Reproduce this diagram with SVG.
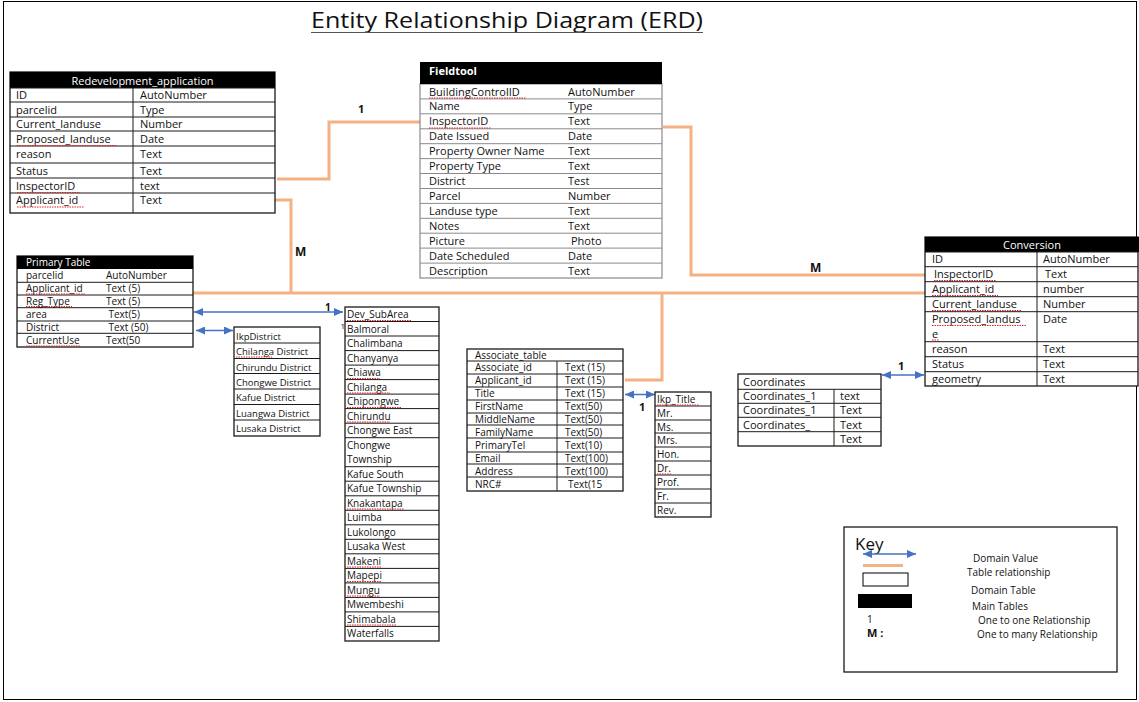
<svg xmlns="http://www.w3.org/2000/svg" width="1139" height="702" viewBox="0 0 1139 702">
<defs>
<marker id="arr" markerUnits="userSpaceOnUse" markerWidth="9" markerHeight="8" refX="9" refY="4" orient="auto-start-reverse"><path d="M0,0 L9,4 L0,8 z" fill="#4472C4"/></marker>
<style>
text{font-family:"Open Sans","Liberation Sans",sans-serif;font-size:11px;fill:#111}
.sm{font-size:10px}
.xs{font-size:9.5px}
.hd{fill:#fff}
.b{font-weight:bold}
.box{fill:#fff;stroke:#1a1a1a;stroke-width:1.3}
.ln{stroke:#1a1a1a;stroke-width:1}
.gl{stroke:#8a8a8a;stroke-width:1}
.blk{fill:#000}
.rel{fill:none;stroke:#F4B183;stroke-width:3}
.dom{stroke:#4472C4;stroke-width:1.5;marker-start:url(#arr);marker-end:url(#arr)}
.sq{stroke:#e02020;stroke-width:1;stroke-dasharray:1.5 1}
</style>
</defs>
<rect x="3.5" y="1.5" width="1133" height="698" fill="#fff" stroke="#000" stroke-width="1"/>

<g id="title">
<text x="507" y="28" text-anchor="middle" style="font-size:22px" textLength="392" lengthAdjust="spacingAndGlyphs">Entity Relationship Diagram (ERD)</text>
<line x1="311" y1="32.5" x2="703" y2="32.5" stroke="#555" stroke-width="1"/>
</g>

<g id="connectors">
<polyline class="rel" points="277,179 329,179 329,122 420,122"/>
<polyline class="rel" points="271,200 291,200 291,293"/>
<line class="rel" x1="189" y1="293" x2="926" y2="293"/>
<polyline class="rel" points="625,380 662,380 662,293"/>
<polyline class="rel" points="663,127 691,127 691,275 926,275"/>
<line class="dom" x1="194" y1="312" x2="343" y2="312"/>
<line class="dom" x1="196" y1="330.5" x2="233" y2="330.5"/>
<line class="dom" x1="625" y1="394.5" x2="655" y2="394.5"/>
<line class="dom" x1="882" y1="375" x2="924" y2="375"/>
<text x="358" y="113" class="b">1</text>
<text x="295" y="256" class="b" style="font-size:12px">M</text>
<text x="810" y="272" class="b" style="font-size:12px">M</text>
<text x="325" y="311" class="b sm">1</text>
<text x="639" y="411" class="b">1</text>
<text x="898" y="370" class="b">1</text>
</g>

<g id="redevelopment_application">
<rect class="box" x="10" y="72" width="265" height="141"/>
<rect class="blk" x="10" y="72" width="265" height="16"/>
<text x="142.5" y="84.5" text-anchor="middle" class="hd">Redevelopment_application</text>
<line class="ln" x1="10" y1="88" x2="275" y2="88"/>
<line class="ln" x1="10" y1="102" x2="275" y2="102"/>
<line class="ln" x1="10" y1="117" x2="275" y2="117"/>
<line class="ln" x1="10" y1="131" x2="275" y2="131"/>
<line class="ln" x1="10" y1="146" x2="275" y2="146"/>
<line class="ln" x1="10" y1="163" x2="275" y2="163"/>
<line class="ln" x1="10" y1="178" x2="275" y2="178"/>
<line class="ln" x1="10" y1="193" x2="275" y2="193"/>
<line class="ln" x1="133" y1="88" x2="133" y2="213"/>
<text x="16" y="99">ID</text><text x="140" y="99">AutoNumber</text>
<text x="16" y="113.5">parcelid</text><text x="140" y="113.5">Type</text>
<text x="16" y="128">Current_landuse</text><text x="140" y="128">Number</text>
<text x="16" y="143">Proposed_landuse</text><text x="140" y="143">Date</text>
<text x="16" y="158">reason</text><text x="140" y="158">Text</text>
<text x="16" y="175">Status</text><text x="140" y="175">Text</text>
<text x="16" y="190">InspectorID</text><text x="140" y="190">text</text>
<text x="16" y="204">Applicant_id</text><text x="140" y="204">Text</text>
<line class="sq" x1="17" y1="145.5" x2="116" y2="145.5"/>
<line class="sq" x1="17" y1="192.5" x2="80" y2="192.5"/>
<line class="sq" x1="17" y1="207" x2="84" y2="207"/>
</g>

<g id="fieldtool">
<rect x="420" y="84" width="242" height="194" fill="#fff" stroke="#8a8a8a" stroke-width="1.2"/>
<rect class="blk" x="420" y="62" width="242" height="22"/>
<text x="429" y="75" class="hd b">Fieldtool</text>
<line class="gl" x1="420" y1="98.9" x2="662" y2="98.9"/>
<line class="gl" x1="420" y1="113.8" x2="662" y2="113.8"/>
<line class="gl" x1="420" y1="128.8" x2="662" y2="128.8"/>
<line class="gl" x1="420" y1="143.7" x2="662" y2="143.7"/>
<line class="gl" x1="420" y1="158.6" x2="662" y2="158.6"/>
<line class="gl" x1="420" y1="173.5" x2="662" y2="173.5"/>
<line class="gl" x1="420" y1="188.5" x2="662" y2="188.5"/>
<line class="gl" x1="420" y1="203.4" x2="662" y2="203.4"/>
<line class="gl" x1="420" y1="218.3" x2="662" y2="218.3"/>
<line class="gl" x1="420" y1="233.2" x2="662" y2="233.2"/>
<line class="gl" x1="420" y1="248.1" x2="662" y2="248.1"/>
<line class="gl" x1="420" y1="263.1" x2="662" y2="263.1"/>
<text x="429" y="95.5">BuildingControlID</text><text x="568" y="95.5">AutoNumber</text>
<text x="429" y="110.4">Name</text><text x="568" y="110.4">Type</text>
<text x="429" y="125.3">InspectorID</text><text x="568" y="125.3">Text</text>
<text x="429" y="140.3">Date Issued</text><text x="568" y="140.3">Date</text>
<text x="429" y="155.2">Property Owner Name</text><text x="568" y="155.2">Text</text>
<text x="429" y="170.1">Property Type</text><text x="568" y="170.1">Text</text>
<text x="429" y="185">District</text><text x="568" y="185">Test</text>
<text x="429" y="199.9">Parcel</text><text x="568" y="199.9">Number</text>
<text x="429" y="214.9">Landuse type</text><text x="568" y="214.9">Text</text>
<text x="429" y="229.8">Notes</text><text x="568" y="229.8">Text</text>
<text x="429" y="244.7">Picture</text><text x="571" y="244.7">Photo</text>
<text x="429" y="259.6">Date Scheduled</text><text x="568" y="259.6">Date</text>
<text x="429" y="274.5">Description</text><text x="568" y="274.5">Text</text>
<line class="sq" x1="429" y1="98" x2="526" y2="98"/>
<line class="sq" x1="429" y1="128" x2="491" y2="128"/>
</g>

<g id="conversion">
<rect class="box" x="925" y="237" width="213" height="149"/>
<rect class="blk" x="925" y="237" width="214" height="15"/>
<text x="1032" y="248.5" text-anchor="middle" class="hd">Conversion</text>
<line class="ln" x1="925" y1="252" x2="1138" y2="252"/>
<line class="ln" x1="925" y1="266.7" x2="1138" y2="266.7"/>
<line class="ln" x1="925" y1="281.7" x2="1138" y2="281.7"/>
<line class="ln" x1="925" y1="296.7" x2="1138" y2="296.7"/>
<line class="ln" x1="925" y1="311.7" x2="1138" y2="311.7"/>
<line class="ln" x1="925" y1="341.7" x2="1138" y2="341.7"/>
<line class="ln" x1="925" y1="356.7" x2="1138" y2="356.7"/>
<line class="ln" x1="925" y1="371.7" x2="1138" y2="371.7"/>
<line class="ln" x1="1037" y1="252" x2="1037" y2="386"/>
<text x="932" y="263">ID</text><text x="1043" y="263">AutoNumber</text>
<text x="934" y="278">InspectorID</text><text x="1045" y="278">Text</text>
<text x="932" y="293">Applicant_id</text><text x="1043" y="293">number</text>
<text x="932" y="308">Current_landuse</text><text x="1043" y="308">Number</text>
<text x="932" y="323">Proposed_landus</text><text x="1043" y="323">Date</text>
<text x="932" y="338">e</text>
<text x="932" y="353">reason</text><text x="1043" y="353">Text</text>
<text x="932" y="368">Status</text><text x="1043" y="368">Text</text>
<text x="932" y="382.5">geometry</text><text x="1043" y="382.5">Text</text>
<line class="sq" x1="934" y1="280.5" x2="996" y2="280.5"/>
<line class="sq" x1="932" y1="295.5" x2="998" y2="295.5"/>
<line class="sq" x1="932" y1="310.5" x2="1022" y2="310.5"/>
<line class="sq" x1="932" y1="325.5" x2="1026" y2="325.5"/>
<line class="sq" x1="932" y1="340" x2="939" y2="340"/>
</g>

<g id="primary_table">
<rect class="box" x="17" y="256" width="176" height="91"/>
<rect class="blk" x="17" y="256" width="176" height="13"/>
<text x="26" y="266" class="sm hd">Primary Table</text>
<line class="ln" x1="17" y1="282.3" x2="193" y2="282.3"/>
<line class="ln" x1="17" y1="295" x2="193" y2="295"/>
<line class="ln" x1="17" y1="307.7" x2="193" y2="307.7"/>
<line class="ln" x1="17" y1="321" x2="193" y2="321"/>
<line class="ln" x1="17" y1="333.3" x2="193" y2="333.3"/>
<text x="26" y="279" class="sm">parcelid</text><text x="106" y="279" class="sm">AutoNumber</text>
<text x="26" y="292" class="sm">Applicant_id</text><text x="106" y="292" class="sm">Text (5)</text>
<text x="26" y="304.5" class="sm">Reg_Type</text><text x="106" y="304.5" class="sm">Text (5)</text>
<text x="26" y="318" class="sm">area</text><text x="108.5" y="318" class="sm">Text(5)</text>
<text x="26" y="330.5" class="sm">District</text><text x="108.5" y="330.5" class="sm">Text (50)</text>
<text x="26" y="344" class="sm">CurrentUse</text><text x="106" y="344" class="sm">Text(50</text>
<line class="sq" x1="26" y1="294" x2="86" y2="294"/>
<line class="sq" x1="26" y1="306.5" x2="72" y2="306.5"/>
<line class="sq" x1="26" y1="346" x2="81" y2="346"/>
</g>

<g id="ikp_district">
<rect class="box" x="234" y="327" width="86" height="109"/>
<line class="ln" x1="234" y1="343" x2="320" y2="343"/>
<line class="ln" x1="234" y1="358.5" x2="320" y2="358.5"/>
<line class="ln" x1="234" y1="373.5" x2="320" y2="373.5"/>
<line class="ln" x1="234" y1="389" x2="320" y2="389"/>
<line class="ln" x1="234" y1="404.5" x2="320" y2="404.5"/>
<line class="ln" x1="234" y1="420" x2="320" y2="420"/>
<text x="236" y="340" class="xs">IkpDistrict</text>
<text x="236" y="355" class="xs">Chilanga District</text>
<text x="236" y="370.5" class="xs">Chirundu District</text>
<text x="236" y="385.5" class="xs">Chongwe District</text>
<text x="236" y="401" class="xs">Kafue District</text>
<text x="236" y="416.5" class="xs">Luangwa District</text>
<text x="236" y="432" class="xs">Lusaka District</text>
<line class="sq" x1="236" y1="357" x2="272" y2="357"/>
</g>

<g id="dev_subarea">
<rect class="box" x="345" y="307" width="94" height="334"/>
<line class="ln" x1="345" y1="321.5" x2="439" y2="321.5"/>
<line class="ln" x1="345" y1="336" x2="439" y2="336"/>
<line class="ln" x1="345" y1="350.6" x2="439" y2="350.6"/>
<line class="ln" x1="345" y1="365.1" x2="439" y2="365.1"/>
<line class="ln" x1="345" y1="379.6" x2="439" y2="379.6"/>
<line class="ln" x1="345" y1="394.1" x2="439" y2="394.1"/>
<line class="ln" x1="345" y1="408.6" x2="439" y2="408.6"/>
<line class="ln" x1="345" y1="423.2" x2="439" y2="423.2"/>
<line class="ln" x1="345" y1="437.7" x2="439" y2="437.7"/>
<line class="ln" x1="345" y1="466.7" x2="439" y2="466.7"/>
<line class="ln" x1="345" y1="481.2" x2="439" y2="481.2"/>
<line class="ln" x1="345" y1="495.8" x2="439" y2="495.8"/>
<line class="ln" x1="345" y1="510.3" x2="439" y2="510.3"/>
<line class="ln" x1="345" y1="524.8" x2="439" y2="524.8"/>
<line class="ln" x1="345" y1="539.3" x2="439" y2="539.3"/>
<line class="ln" x1="345" y1="553.8" x2="439" y2="553.8"/>
<line class="ln" x1="345" y1="568.4" x2="439" y2="568.4"/>
<line class="ln" x1="345" y1="582.9" x2="439" y2="582.9"/>
<line class="ln" x1="345" y1="597.4" x2="439" y2="597.4"/>
<line class="ln" x1="345" y1="611.9" x2="439" y2="611.9"/>
<line class="ln" x1="345" y1="626.4" x2="439" y2="626.4"/>
<text x="347" y="318" class="sm">Dev_SubArea</text>
<text x="347" y="332.5" class="sm">Balmoral</text>
<text x="347" y="347" class="sm">Chalimbana</text>
<text x="347" y="361.6" class="sm">Chanyanya</text>
<text x="347" y="376.1" class="sm">Chiawa</text>
<text x="347" y="390.6" class="sm">Chilanga</text>
<text x="347" y="405.1" class="sm">Chipongwe</text>
<text x="347" y="419.6" class="sm">Chirundu</text>
<text x="347" y="434.2" class="sm">Chongwe East</text>
<text x="347" y="449" class="sm">Chongwe</text>
<text x="347" y="462.5" class="sm">Township</text>
<text x="347" y="477.7" class="sm">Kafue South</text>
<text x="347" y="492.2" class="sm">Kafue Township</text>
<text x="347" y="506.8" class="sm">Knakantapa</text>
<text x="347" y="521.3" class="sm">Luimba</text>
<text x="347" y="535.8" class="sm">Lukolongo</text>
<text x="347" y="550.3" class="sm">Lusaka West</text>
<text x="347" y="564.8" class="sm">Makeni</text>
<text x="347" y="579.4" class="sm">Mapepi</text>
<text x="347" y="593.9" class="sm">Mungu</text>
<text x="347" y="608.4" class="sm">Mwembeshi</text>
<text x="347" y="622.9" class="sm">Shimabala</text>
<text x="347" y="637.4" class="sm">Waterfalls</text>
<text x="340.5" y="329" style="font-size:8px">1</text>
<line class="sq" x1="347" y1="320.5" x2="411" y2="320.5"/>
<line class="sq" x1="347" y1="378.5" x2="380" y2="378.5"/>
<line class="sq" x1="347" y1="393" x2="390" y2="393"/>
<line class="sq" x1="347" y1="407.5" x2="401" y2="407.5"/>
<line class="sq" x1="347" y1="422" x2="390" y2="422"/>
<line class="sq" x1="347" y1="509" x2="404" y2="509"/>
<line class="sq" x1="347" y1="567" x2="381" y2="567"/>
<line class="sq" x1="347" y1="581.5" x2="381" y2="581.5"/>
<line class="sq" x1="347" y1="596" x2="380" y2="596"/>
<line class="sq" x1="347" y1="625" x2="396" y2="625"/>
</g>

<g id="associate_table">
<rect class="box" x="467" y="349" width="156" height="142"/>
<line class="ln" x1="467" y1="361" x2="623" y2="361"/>
<line class="ln" x1="467" y1="374" x2="623" y2="374"/>
<line class="ln" x1="467" y1="387" x2="623" y2="387"/>
<line class="ln" x1="467" y1="400" x2="623" y2="400"/>
<line class="ln" x1="467" y1="413" x2="623" y2="413"/>
<line class="ln" x1="467" y1="425" x2="623" y2="425"/>
<line class="ln" x1="467" y1="438" x2="623" y2="438"/>
<line class="ln" x1="467" y1="452" x2="623" y2="452"/>
<line class="ln" x1="467" y1="464" x2="623" y2="464"/>
<line class="ln" x1="467" y1="477" x2="623" y2="477"/>
<line class="ln" x1="557" y1="361" x2="557" y2="491"/>
<text x="475" y="358.5" class="sm">Associate_table</text>
<text x="475" y="371" class="sm">Associate_id</text><text x="565" y="371" class="sm">Text (15)</text>
<text x="475" y="384" class="sm">Applicant_id</text><text x="565" y="384" class="sm">Text (15)</text>
<text x="475" y="397" class="sm">Title</text><text x="565" y="397" class="sm">Text (15)</text>
<text x="475" y="410" class="sm">FirstName</text><text x="565" y="410" class="sm">Text(50)</text>
<text x="475" y="422.5" class="sm">MiddleName</text><text x="565" y="422.5" class="sm">Text(50)</text>
<text x="475" y="435.5" class="sm">FamilyName</text><text x="565" y="435.5" class="sm">Text(50)</text>
<text x="475" y="448.5" class="sm">PrimaryTel</text><text x="565" y="448.5" class="sm">Text(10)</text>
<text x="475" y="461.5" class="sm">Email</text><text x="565" y="461.5" class="sm">Text(100)</text>
<text x="475" y="474.5" class="sm">Address</text><text x="565" y="474.5" class="sm">Text(100)</text>
<text x="475" y="487.5" class="sm">NRC#</text><text x="568" y="487.5" class="sm">Text(15</text>
</g>

<g id="ikp_title">
<rect class="box" x="655" y="392" width="56" height="125"/>
<line class="ln" x1="655" y1="406" x2="711" y2="406"/>
<line class="ln" x1="655" y1="420" x2="711" y2="420"/>
<line class="ln" x1="655" y1="433" x2="711" y2="433"/>
<line class="ln" x1="655" y1="447" x2="711" y2="447"/>
<line class="ln" x1="655" y1="461" x2="711" y2="461"/>
<line class="ln" x1="655" y1="475" x2="711" y2="475"/>
<line class="ln" x1="655" y1="489" x2="711" y2="489"/>
<line class="ln" x1="655" y1="503" x2="711" y2="503"/>
<text x="657" y="403" class="sm">Ikp_Title</text>
<text x="657" y="417" class="sm">Mr.</text>
<text x="657" y="430.5" class="sm">Ms.</text>
<text x="657" y="444" class="sm">Mrs.</text>
<text x="657" y="458" class="sm">Hon.</text>
<text x="657" y="472" class="sm">Dr.</text>
<text x="657" y="486" class="sm">Prof.</text>
<text x="657" y="500" class="sm">Fr.</text>
<text x="657" y="514" class="sm">Rev.</text>
<line class="sq" x1="657" y1="405" x2="699" y2="405"/>
<line class="sq" x1="657" y1="474" x2="671" y2="474"/>
</g>

<g id="coordinates">
<rect class="box" x="738" y="374" width="143" height="72"/>
<line class="ln" x1="738" y1="389.3" x2="881" y2="389.3"/>
<line class="ln" x1="738" y1="403.3" x2="881" y2="403.3"/>
<line class="ln" x1="738" y1="417.3" x2="881" y2="417.3"/>
<line class="ln" x1="738" y1="431.7" x2="881" y2="431.7"/>
<line class="ln" x1="834" y1="389.3" x2="834" y2="446"/>
<text x="743" y="386">Coordinates</text>
<text x="743" y="400">Coordinates_1</text><text x="840" y="400">text</text>
<text x="743" y="414">Coordinates_1</text><text x="840" y="414">Text</text>
<text x="743" y="428.5">Coordinates_</text><text x="840" y="428.5">Text</text>
<text x="840" y="443">Text</text>
</g>

<g id="key">
<rect class="box" x="844" y="527" width="273" height="145"/>
<text x="855" y="550" style="font-size:17px">Key</text>
<line class="dom" x1="863" y1="554" x2="916" y2="554"/>
<line class="rel" x1="863" y1="565.5" x2="903" y2="565.5"/>
<rect x="863" y="573" width="45" height="13" fill="#fff" stroke="#000" stroke-width="1"/>
<rect class="blk" x="858" y="594" width="54" height="14"/>
<text x="867" y="623" class="sm">1</text>
<text x="867" y="637" class="b" style="font-size:11px">M :</text>
<text x="973" y="562" class="sm">Domain Value</text>
<text x="967" y="576" class="sm">Table relationship</text>
<text x="971" y="594" class="sm">Domain Table</text>
<text x="972" y="609.5" class="sm">Main Tables</text>
<text x="978" y="623.5" class="sm">One to one Relationship</text>
<text x="977" y="638" class="sm">One to many Relationship</text>
</g>
</svg>
